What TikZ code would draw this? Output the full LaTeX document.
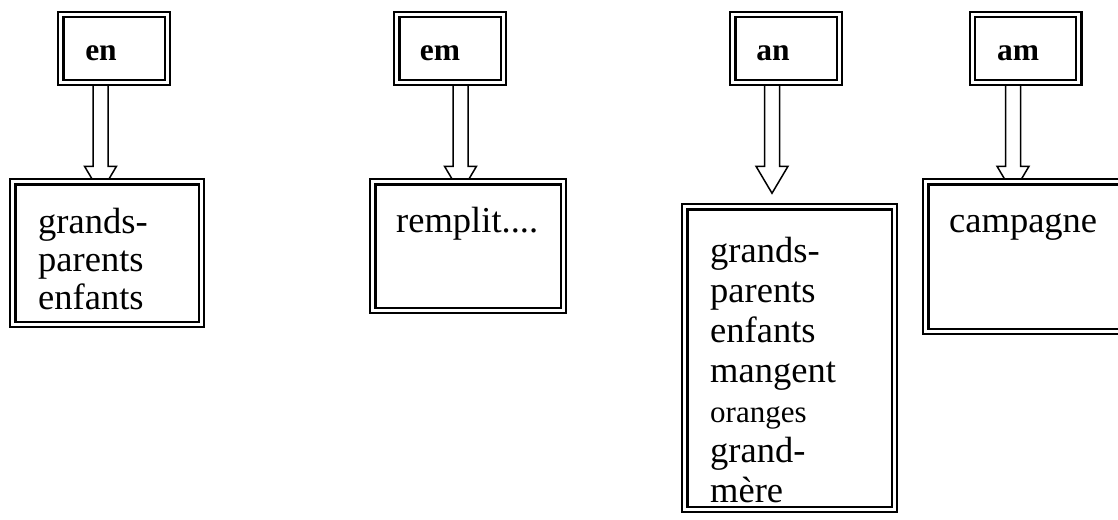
\documentclass[tikz,border=0pt]{standalone}
\usepackage{fontspec}
\setmainfont{Liberation Serif}
\usetikzlibrary{calc}
\pgfdeclarelayer{background}
\pgfsetlayers{background,main}

\begin{document}
\begin{tikzpicture}[
    x=1pt, y=-1pt,
    dbox/.style={
        draw=black, line width=2.4pt, double=white, double distance=2.7pt,
        fill=white, inner sep=0pt, outer sep=0pt
    },
    head/.style={dbox, minimum width=106.5pt, minimum height=67.5pt},
    lbl/.style={font=\fontsize{31.5}{36}\selectfont\bfseries, anchor=base, inner sep=0pt},
    words/.style={font=\fontsize{36.5}{38}\selectfont, align=left, anchor=base west, inner sep=0pt},
    blockarr/.style={draw=black, line width=1.5pt, fill=white, line join=miter},
]
\useasboundingbox (0,0) rectangle (1118,519);
% ---------- top row : the four spellings ----------
\node[head] (en) at (114, 48.5)    {};
\node[head] (em) at (450, 48.5)    {};
\node[head] (an) at (786, 48.5)    {};
\node[head] (am) at (1025.5, 48.5) {};
\node[lbl] (en-txt) at (101, 60)  {en};
\node[lbl] (em-txt) at (440, 60)  {em};
\node[lbl] (an-txt) at (773, 60)  {an};
\node[lbl] (am-txt) at (1018, 60) {am};
% ---------- bottom row : word lists ----------
\node[dbox, minimum width=188.5pt, minimum height=142.5pt] (enbox) at (107, 253)    {};
\node[dbox, minimum width=190.5pt, minimum height=128.5pt] (embox) at (468, 246)    {};
\node[dbox, minimum width=209.5pt, minimum height=302.5pt] (anbox) at (789.5, 358)  {};
\node[dbox, minimum width=230.5pt, minimum height=149.5pt] (ambox) at (1041, 256.5) {};
% (base of a multi-line node = baseline of its last line)
\node[words] (en-words) at (38, 309)  {grands-\\parents\\enfants};
\node[words] (em-words) at (396, 232) {remplit....};
\node[words, font=\fontsize{36.5}{40}\selectfont] (an-words) at (710, 502)
    {grands-\\parents\\enfants\\mangent\\{\fontsize{31}{36}\selectfont oranges}\\grand-\\mère};
\node[words] (am-words) at (949, 232) {campagne};
% ===================== ARROWS =====================
\begin{pgfonlayer}{background}
\foreach \src/\dx in {en/-13.5, em/10.5, an/-14, am/-12.5}
    \draw[blockarr] ($(\src.south)+(\dx-7.5,0)$) -- ++(0,84) -- ++(-8.5,0)
        -- ++(16,27) -- ++(16,-27) -- ++(-8.5,0) -- ++(0,-84) -- cycle;
\end{pgfonlayer}
\end{tikzpicture}
\end{document}
